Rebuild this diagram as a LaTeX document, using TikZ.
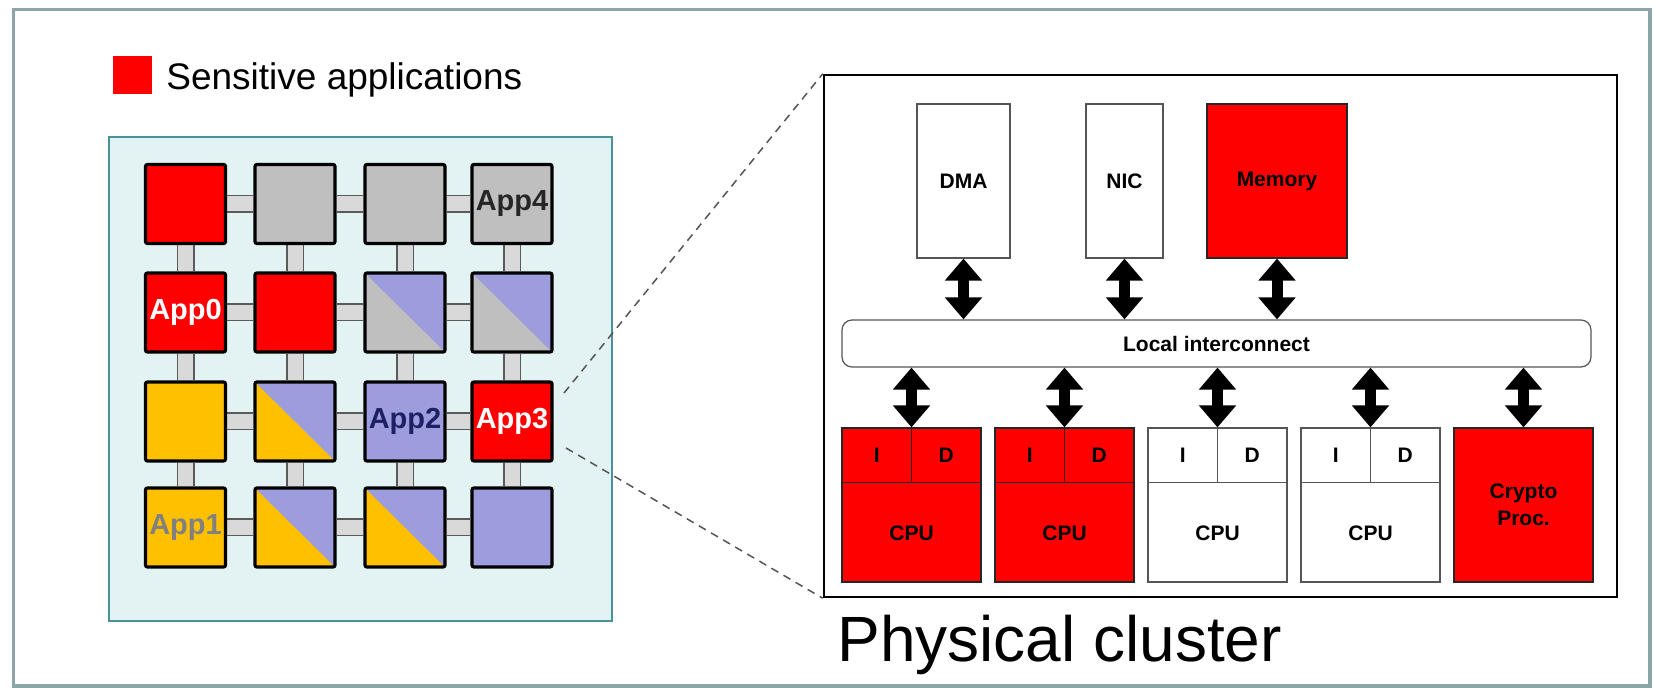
\documentclass[tikz,border=0pt]{standalone}
\usepackage{fontspec}
\setmainfont{Liberation Sans}
\usetikzlibrary{arrows.meta,calc}
\pgfdeclarelayer{bg}
\pgfdeclarelayer{links}
\pgfsetlayers{bg,links,main}
\definecolor{appred}{HTML}{FF0000}
\definecolor{tilegray}{HTML}{BFBFBF}
\definecolor{tilepurple}{HTML}{9D9CDC}
\definecolor{tileorange}{HTML}{FFC000}
\definecolor{linkfill}{HTML}{D9D9D9}
\definecolor{linkedge}{HTML}{5A5A5A}
\definecolor{panelfill}{HTML}{E3F3F3}
\definecolor{paneledge}{HTML}{4A9299}
\definecolor{framecol}{HTML}{8CA6A8}
\definecolor{boxedge}{HTML}{555555}
\definecolor{dashcol}{HTML}{555555}
\definecolor{appnavy}{HTML}{1F1F66}
\definecolor{appdark}{HTML}{262626}
\definecolor{appgray}{HTML}{808080}
\begin{document}
\begin{tikzpicture}[x=0.5pt,y=-0.5pt,
  tile/.style={draw=black, line width=1.6pt, minimum width=40pt, minimum height=39.5pt,
    inner sep=0pt, rounded corners=1pt, font=\fontsize{14.5pt}{17pt}\selectfont\bfseries},
  halfsplit/.style={fill=#1, path picture={\fill[tilepurple]
    (path picture bounding box.north west) -- (path picture bounding box.north east)
    -- (path picture bounding box.south east) -- cycle;}},
  link/.style={draw=linkedge, line width=0.75pt, double=linkfill, double distance=7.5pt},
  box/.style={draw=boxedge, line width=0.6pt, inner sep=0pt,
    font=\fontsize{10.5pt}{13.5pt}\selectfont\bfseries, align=center},
  boxline/.style={draw=black!85, line width=0.6pt},
  lbl/.style={font=\fontsize{10.5pt}{13.5pt}\selectfont\bfseries, inner sep=0pt},
  biarrow/.style={line width=5.5pt, {Triangle[width=18pt,length=11pt]}-{Triangle[width=18pt,length=11pt]}},
  dashline/.style={draw=dashcol, line width=0.75pt, dash pattern=on 4pt off 3pt}
]
\useasboundingbox (0,0) rectangle (1655,688);
\begin{pgfonlayer}{bg}
  \draw[framecol, line width=1.75pt] (13.5,9.5) rectangle (1650,686);
  \draw[paneledge, fill=panelfill, line width=1pt] (109,137) rectangle (612,621);
\end{pgfonlayer}

% legend
\node[fill=appred, minimum width=19.5pt, minimum height=19pt, inner sep=0pt] (legsq) at (132.5,75) {};
\node[anchor=base west, inner sep=0pt, font=\fontsize{18.5pt}{22pt}\selectfont] (legtxt) at (166,90) {Sensitive applications};

% mesh tiles
\node[tile, fill=appred]    (t00) at (185.5,204) {};
\node[tile, fill=tilegray]  (t01) at (295,204) {};
\node[tile, fill=tilegray]  (t02) at (405,204) {};
\node[tile, fill=tilegray, text=appdark] (t03) at (512,204) {App4};

\node[tile, fill=appred, text=white] (t10) at (185.5,312.5) {App0};
\node[tile, fill=appred]    (t11) at (295,312.5) {};
\node[tile, halfsplit=tilegray] (t12) at (405,312.5) {};
\node[tile, halfsplit=tilegray] (t13) at (512,312.5) {};

\node[tile, fill=tileorange] (t20) at (185.5,421.5) {};
\node[tile, halfsplit=tileorange] (t21) at (295,421.5) {};
\node[tile, fill=tilepurple, text=appnavy] (t22) at (405,421.5) {App2};
\node[tile, fill=appred, text=white] (t23) at (512,421.5) {App3};

\node[tile, fill=tileorange, text=appgray] (t30) at (185.5,527.5) {App1};
\node[tile, halfsplit=tileorange] (t31) at (295,527.5) {};
\node[tile, halfsplit=tileorange] (t32) at (405,527.5) {};
\node[tile, fill=tilepurple] (t33) at (512,527.5) {};

\begin{pgfonlayer}{links}
  \foreach \r in {0,1,2,3}{
    \draw[link] (t\r0) -- (t\r1);
    \draw[link] (t\r1) -- (t\r2);
    \draw[link] (t\r2) -- (t\r3);
  }
  \foreach \cc in {0,1,2,3}{
    \draw[link] (t0\cc) -- (t1\cc);
    \draw[link] (t1\cc) -- (t2\cc);
    \draw[link] (t2\cc) -- (t3\cc);
  }
\end{pgfonlayer}

% physical cluster
\node[draw=black, line width=1.25pt, minimum width=396.5pt, minimum height=261pt, inner sep=0pt] (cluster) at (1220.5,336) {};

\node[box, fill=white, minimum width=46.5pt, minimum height=77pt] (dma) at (963.5,181) {DMA};
\node[box, fill=white, minimum width=38.5pt, minimum height=77pt] (nic) at (1124.5,181) {NIC};
\node[box, draw=black!85, fill=appred, minimum width=70pt, minimum height=77pt] (mem) at (1277,181) {Memory};

\node[box, rounded corners=5pt, fill=white, minimum width=374.5pt, minimum height=23.5pt] (ic) at (1216.5,343.5) {Local interconnect};

\foreach \i/\x/\col/\ec in {0/911.5/appred/black!85,1/1064.5/appred/black!85,2/1217.5/white/boxedge,3/1370.5/white/boxedge}{
  \node[box, draw=\ec, fill=\col, minimum width=69.5pt, minimum height=77pt] (cpu\i) at (\x,505) {};
  \draw[boxline, draw=\ec] ($(cpu\i.north west)+(0,55)$) -- ($(cpu\i.north east)+(0,55)$);
  \draw[boxline, draw=\ec] (cpu\i.north) -- ($(cpu\i.north)+(0,55)$);
  \node[lbl] (ci\i) at ($(cpu\i.north)+(-34.75,27.5)$) {I};
  \node[lbl] (cd\i) at ($(cpu\i.north)+(34.75,27.5)$) {D};
  \node[lbl] (cl\i) at ($(cpu\i.south)+(0,-49.5)$) {CPU};
  \draw[biarrow] (cpu\i.north) -- (cpu\i.north |- ic.south);
}
\node[box, draw=black!85, fill=appred, minimum width=69.5pt, minimum height=77pt] (crypto) at (1523.5,505) {Crypto\\Proc.};
\draw[biarrow] (crypto.north) -- (crypto.north |- ic.south);

\draw[biarrow] (dma.south) -- (dma.south |- ic.north);
\draw[biarrow] (nic.south) -- (nic.south |- ic.north);
\draw[biarrow] (mem.south) -- (mem.south |- ic.north);

\node[anchor=base west, inner sep=0pt, font=\fontsize{32pt}{37pt}\selectfont] (pc) at (837,662) {Physical cluster};

% zoom lines
\coordinate (dz1) at (564,393);
\coordinate (dz2) at (566,448);
\draw[dashline] (dz1) -- (cluster.north west);
\draw[dashline] (dz2) -- (cluster.south west);
\end{tikzpicture}
\end{document}
